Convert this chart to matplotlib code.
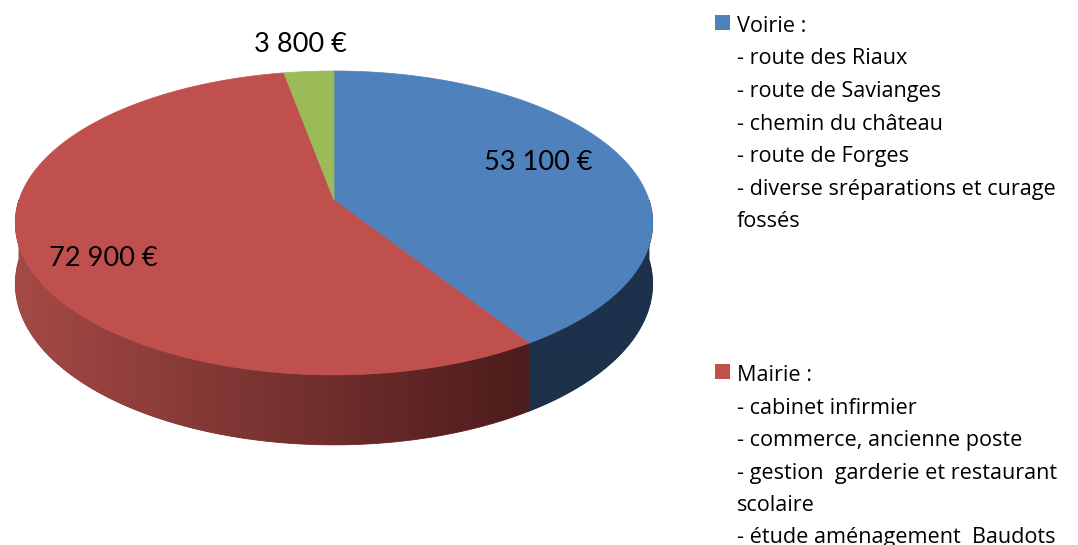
import numpy as np
import matplotlib
matplotlib.use("Agg")
import matplotlib.pyplot as plt
from matplotlib.patches import Polygon, Rectangle

# Budget split (euros)
categories = ["Voirie", "Mairie", "Autres"]
values = [53100, 72900, 3800]

legend_lines = {
    "Voirie": ["Voirie :",
               "- route des Riaux",
               "- route de Savianges",
               "- chemin du château",
               "- route de Forges",
               "- diverse sréparations et curage",
               "fossés"],
    "Mairie": ["Mairie :",
               "- cabinet infirmier",
               "- commerce, ancienne poste",
               "- gestion  garderie et restaurant",
               "scolaire",
               "- étude aménagement  Baudots"],
}

top_colors = ["#4F81BD", "#C0504D", "#9BBB59"]
side_light = {"Voirie": "#213757", "Mairie": "#a54a46", "Autres": "#6b8a3a"}
side_dark = {"Voirie": "#1d314b", "Mairie": "#4d1c1c", "Autres": "#5a7530"}

LABEL_FONT = "Lato"
LEGEND_FONT = "Open Sans"

# perspective disc geometry (pixels)
CX, CY = 334.0, 200.0
SX, SY = 315.0, 148.5
K = 0.151
H = 59.4


def proj(phi, r=1.0, depth=0.0):
    X = r * np.cos(phi)
    Y = r * np.sin(phi)
    w = 1.0 + K * Y
    return CX + SX * X / w, CY - SY * Y / w + depth / w


def rgb(c):
    return np.array(matplotlib.colors.to_rgb(c))


fig = plt.figure(figsize=(10.78, 5.45), dpi=100)
ax = fig.add_axes([0, 0, 1, 1])
ax.set_xlim(0, 1078)
ax.set_ylim(545, 0)
ax.axis("off")

total = float(sum(values))
fracs = np.array(values) / total
bounds = np.pi / 2 - 2 * np.pi * np.concatenate([[0], np.cumsum(fracs)])

# side wall (front half only), shaded left-to-right
xs = np.arange(1078) + 0.5
for i, cat in enumerate(categories):
    hi = min(bounds[i], 0.0)
    lo = max(bounds[i + 1], -np.pi)
    if hi <= lo:
        continue
    ph = np.linspace(hi, lo, 300)
    top = [proj(p) for p in ph]
    bot = [proj(p, depth=H) for p in ph[::-1]]
    pts = top + bot
    t = np.clip((xs - 15) / (525 - 15), 0, 1)[:, None]
    grad = rgb(side_light[cat]) + (rgb(side_dark[cat]) - rgb(side_light[cat])) * t
    mid = tuple(grad[int(np.mean([p[0] for p in pts]))])
    base = Polygon(pts, closed=True, facecolor=mid, edgecolor=mid, linewidth=0.6)
    ax.add_patch(base)
    im = ax.imshow(grad[None, :, :], extent=(0, 1078, 545, 0), aspect="auto",
                   interpolation="bilinear", zorder=1.5)
    clip = Polygon(pts, closed=True, transform=ax.transData)
    im.set_clip_path(clip)

# top faces
for i, cat in enumerate(categories):
    ph = np.linspace(bounds[i], bounds[i + 1], 200)
    pts = [(CX, CY)] + [proj(p) for p in ph]
    ax.add_patch(Polygon(pts, closed=True, facecolor=top_colors[i],
                         edgecolor=top_colors[i], linewidth=0.5, zorder=2))

ax.set_xlim(0, 1078)
ax.set_ylim(545, 0)

# value labels
def euro(v):
    return f"{v:,}".replace(",", " ") + " €"

label_xy = [(538, 163), (103, 258), (300, 45)]
for v, (x, y) in zip(values, label_xy):
    ax.text(x, y, euro(v), ha="center", va="center", fontsize=19.5,
            family=LABEL_FONT, color="black", zorder=3)

# legend
legend_top = {"Voirie": 32, "Mairie": 381}
for i, cat in enumerate(categories):
    if cat not in legend_lines:
        continue
    y0 = legend_top[cat]
    ax.add_patch(Rectangle((715, y0 - 17), 15, 15, facecolor=top_colors[i],
                           edgecolor="none", zorder=3))
    for k, line in enumerate(legend_lines[cat]):
        ax.text(737, y0 + k * 32.5, line, ha="left", va="baseline",
                fontsize=15.6, family=LEGEND_FONT, color="black", zorder=3)

fig.savefig("out.png", dpi=100)
